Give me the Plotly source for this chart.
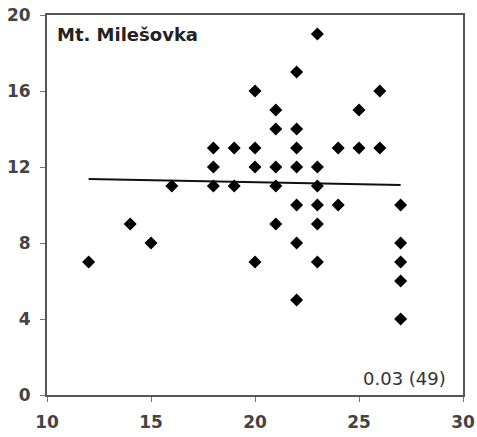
import plotly.graph_objects as go

# Scatter data (x, y)
x_vals = [12, 14, 15, 16,
          18, 18, 18,
          19, 19,
          20, 20, 20, 20,
          21, 21, 21, 21, 21,
          22, 22, 22, 22, 22, 22, 22,
          23, 23, 23, 23, 23, 23,
          24, 24,
          25, 25,
          26, 26,
          27, 27, 27, 27, 27]
y_vals = [7, 9, 8, 11,
          13, 12, 11,
          13, 11,
          16, 13, 12, 7,
          15, 14, 12, 11, 9,
          17, 14, 13, 12, 10, 8, 5,
          19, 12, 11, 10, 9, 7,
          13, 10,
          15, 13,
          16, 13,
          10, 8, 7, 6, 4]

# Regression line endpoints
line_x = [12, 27]
line_y = [11.37, 11.05]

station = "Mt. Milešovka"
stat_label = "0.03 (49)"

x_ticks = [10, 15, 20, 25, 30]
y_ticks = [0, 4, 8, 12, 16, 20]

fig = go.Figure()
fig.add_trace(go.Scatter(x=line_x, y=line_y, mode="lines",
                         line=dict(color="#111111", width=2), showlegend=False))
fig.add_trace(go.Scatter(x=x_vals, y=y_vals, mode="markers",
                         marker=dict(symbol="diamond", size=10, color="#000000"),
                         showlegend=False))

axis_common = dict(showline=True, mirror=True, linecolor="#555555", linewidth=2,
                   ticks="outside", ticklen=5, tickcolor="#777777", tickwidth=1,
                   showgrid=False, zeroline=False, automargin=False,
                   tickfont=dict(family="DejaVu Sans", size=17, color="#444444", weight="bold"))

fig.update_xaxes(range=[10, 30], tickvals=x_ticks, ticklabelstandoff=6, **axis_common)
fig.update_yaxes(range=[0, 20], tickvals=y_ticks, ticklabelstandoff=6, **axis_common)

fig.add_annotation(x=0.02, y=0.982, xref="paper", yref="paper", xanchor="left", yanchor="top",
                   text="<b>" + station + "</b>", showarrow=False,
                   font=dict(family="DejaVu Sans", size=18, color="#222222"))
fig.add_annotation(x=0.965, y=0.01, xref="paper", yref="paper", xanchor="right", yanchor="bottom",
                   text=stat_label, showarrow=False,
                   font=dict(family="DejaVu Sans", size=18, color="#333333"))

fig.update_layout(width=477, height=437, margin=dict(l=47, r=14, t=15, b=42),
                  paper_bgcolor="white", plot_bgcolor="white")

fig.write_html("out.html", config={"displayModeBar": False},
               post_script="document.body.style.margin='0';document.body.style.overflow='hidden';")
